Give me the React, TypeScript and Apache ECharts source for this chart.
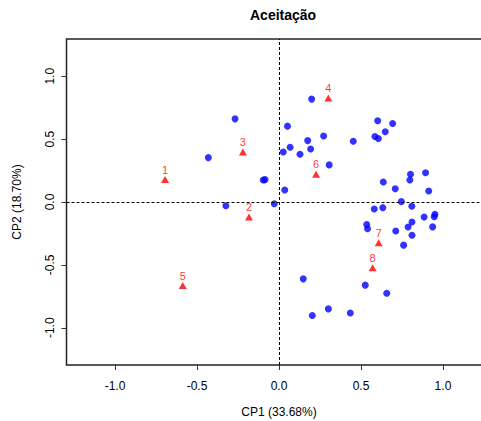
import React, { useEffect, useRef } from "react";
import * as echarts from "echarts";

// Variables (blue points): CP1 and CP2 loadings
const varCP1 = [
  0.199, -0.268, 0.052, 0.602, 0.693, 0.648, 0.272, 0.175, 0.585, 0.606,
  0.453, 0.068, 0.193, 0.026, 0.128, -0.431, 0.306, 0.894, 0.802, 0.798,
  -0.096, -0.085, 0.636, 0.709, 0.035, 0.913, 0.746, -0.029, -0.324, 0.81,
  0.633, 0.581, 0.951, 0.947, 0.885, 0.811, 0.535, 0.54, 0.787, 0.937,
  0.712, 0.811, 0.76, 0.148, 0.526, 0.657, 0.301, 0.435, 0.203,
];
const varCP2 = [
  0.818, 0.661, 0.603, 0.646, 0.624, 0.558, 0.525, 0.488, 0.521, 0.505,
  0.483, 0.436, 0.421, 0.397, 0.38, 0.353, 0.295, 0.232, 0.22, 0.175,
  0.175, 0.178, 0.159, 0.106, 0.096, 0.087, 0.003, -0.014, -0.03, -0.034,
  -0.045, -0.056, -0.098, -0.117, -0.12, -0.159, -0.179, -0.212, -0.199, -0.198,
  -0.231, -0.264, -0.343, -0.611, -0.661, -0.725, -0.85, -0.882, -0.903,
];

// Samples (red triangles)
const sampleLabels = ["1", "2", "3", "4", "5", "6", "7", "8"];
const sampleCP1 = [-0.695, -0.183, -0.22, 0.301, -0.587, 0.226, 0.608, 0.571];
const sampleCP2 = [0.178, -0.12, 0.398, 0.826, -0.664, 0.221, -0.324, -0.523];

const tickValues = [-1.0, -0.5, 0.0, 0.5, 1.0];
const axisMin = -1.296;
const axisMax = 1.296;

const FONT = "'Liberation Sans', Arial, Helvetica, sans-serif";

export default function App() {
  const ref = useRef<HTMLDivElement>(null);

  useEffect(() => {
    if (!ref.current) return;
    const chart = echarts.init(ref.current, null, { renderer: "svg" });

    const varData = varCP1.map((x, i) => [x, varCP2[i]]);
    const sampleData = sampleCP1.map((x, i) => ({
      value: [x, sampleCP2[i]],
      name: sampleLabels[i],
    }));

    const axisCommon = (
      name: string,
      nameGap: number,
      labelMargin: number,
      rotate: number
    ) => ({
      type: "value",
      min: axisMin,
      max: axisMax,
      name,
      nameLocation: "middle",
      nameGap,
      nameTextStyle: { fontFamily: FONT, fontSize: 12, color: "#000" },
      splitLine: { show: false },
      axisLine: { show: false, onZero: false },
      axisTick: {
        show: true,
        inside: false,
        length: 5,
        customValues: tickValues,
        lineStyle: { color: "#333", width: 1 },
      },
      axisLabel: {
        customValues: tickValues,
        formatter: (v: number) => v.toFixed(1),
        fontFamily: FONT,
        fontSize: 12,
        color: "#000",
        margin: labelMargin,
        rotate,
      },
    });

    chart.setOption({
      animation: false,
      backgroundColor: "#fff",
      title: {
        text: "Aceitação",
        left: 245,
        top: 3,
        textStyle: {
          fontFamily: FONT,
          fontSize: 14,
          fontWeight: "bold",
          color: "#000",
        },
      },
      grid: {
        left: 66.5,
        top: 39,
        width: 425,
        height: 326,
        show: true,
        borderColor: "#222",
        borderWidth: 1.5,
        backgroundColor: "transparent",
        containLabel: false,
        outerBoundsMode: "none",
      },
      xAxis: axisCommon("CP1 (33.68%)", 41, 15, 0),
      yAxis: axisCommon("CP2 (18.70%)", 44, 11, 90),
      series: [
        {
          type: "scatter",
          data: varData,
          symbol: "circle",
          symbolSize: 7,
          itemStyle: { color: "#0000ff" },
          markLine: {
            silent: true,
            symbol: "none",
            label: { show: false },
            lineStyle: { color: "#000", width: 1, type: [3, 2] },
            data: [{ xAxis: 0 }, { yAxis: 0 }],
          },
          z: 3,
        },
        {
          type: "scatter",
          data: sampleData,
          symbol: "triangle",
          symbolSize: [8, 7],
          itemStyle: { color: "#ff0000" },
          label: {
            show: true,
            position: "top",
            distance: 1,
            formatter: (p: any) => p.name,
            fontFamily: FONT,
            fontSize: 11,
            color: "#ff0000",
          },
          z: 4,
        },
      ],
    });

    return () => chart.dispose();
  }, []);

  return (
    <div
      ref={ref}
      style={{ position: "fixed", left: 0, top: 0, width: 481, height: 421 }}
    />
  );
}
